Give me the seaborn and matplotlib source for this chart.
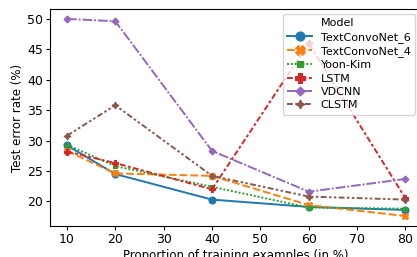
import pandas as pd
import matplotlib
matplotlib.use("Agg")
import matplotlib.pyplot as plt
from matplotlib.lines import Line2D
import seaborn as sns

proportion = [10, 20, 40, 60, 80]
models = ["TextConvoNet_6", "TextConvoNet_4", "Yoon-Kim", "LSTM", "VDCNN", "CLSTM"]
textconvonet_6 = [29.2, 24.5, 20.3, 19.1, 18.6]
textconvonet_4 = [28.3, 24.6, 24.2, 19.4, 17.6]
yoon_kim = [29.3, 25.8, 22.4, 19.0, 18.8]
lstm = [28.2, 26.3, 22.0, 46.0, 20.5]
vdcnn = [50.0, 49.6, 28.3, 21.6, 23.7]
clstm = [30.8, 35.8, 24.2, 20.8, 20.3]

series = [textconvonet_6, textconvonet_4, yoon_kim, lstm, vdcnn, clstm]
rows = []
for name, vals in zip(models, series):
    for p, v in zip(proportion, vals):
        rows.append({"Proportion": p, "Error": v, "Model": name})
df = pd.DataFrame(rows)

plt.rcParams["font.size"] = 8.5
plt.rcParams["xtick.major.size"] = 3
plt.rcParams["ytick.major.size"] = 3
plt.rcParams["xtick.major.pad"] = 2
plt.rcParams["ytick.major.pad"] = 2
plt.rcParams["axes.labelpad"] = 2
fig, ax = plt.subplots(figsize=(4.17, 2.57), dpi=100)
sns.lineplot(data=df, x="Proportion", y="Error", hue="Model", style="Model",
             markers=True, palette="tab10", hue_order=models, style_order=models,
             markersize=5, linewidth=1.4, ax=ax)
# markers with edges in the line colour, like the older seaborn look
for line in ax.lines:
    line.set_markeredgecolor(line.get_color())
    line.set_markeredgewidth(0.8)
ax.set_xlabel("Proportion of training examples (in %)")
ax.set_ylabel("Test error rate (%)")
ax.tick_params(labelsize=9)

# legend with "Model" as a blank-handle header row
handles, labels = ax.get_legend_handles_labels()
for h in handles:
    h.set_markersize(6.5)
    h.set_markeredgecolor(h.get_color())
    h.set_markeredgewidth(0.8)
    h.set_linewidth(1.4)
blank = Line2D([], [], linestyle="none", marker=None)
ax.legend([blank] + handles, ["Model"] + labels, loc="upper right",
          bbox_to_anchor=(0.98, 0.977), borderaxespad=0,
          fontsize=8.0, labelspacing=0.3, handlelength=2.2)
# the right edge of the axes runs a little past the figure
plt.subplots_adjust(left=0.12, right=1.013, top=0.965, bottom=0.121)
plt.savefig("out.png", dpi=100)
